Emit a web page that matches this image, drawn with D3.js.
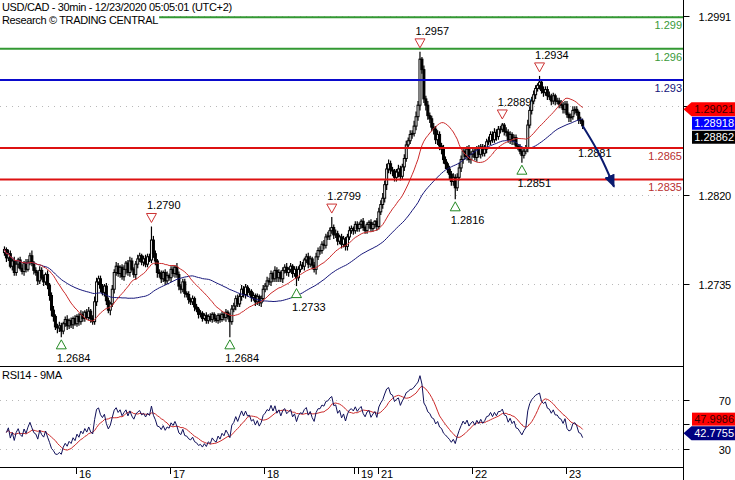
<!DOCTYPE html>
<html><head><meta charset="utf-8">
<script src="https://cdnjs.cloudflare.com/ajax/libs/d3/7.8.5/d3.min.js"></script>
<style>
html,body{margin:0;padding:0;background:#fff;}
svg{display:block;font-family:"Liberation Sans",Arial,sans-serif;font-size:11px;}
</style></head><body>
<svg id="chart" width="735" height="480"></svg>
<script>
// ---------- DATA ----------
const firstOpen = 1.2765;
const closes = [
1.2768,1.2760,1.2764,1.2752,1.2757,1.2746,1.2754,1.2758,1.2750,1.2747,
1.2755,1.2749,1.2756,1.2762,1.2755,1.2748,1.2746,1.2738,1.2748,1.2741,
1.2737,1.2744,1.2734,1.2724,1.2710,1.2704,1.2694,1.2693,1.2695,1.2690,
1.2697,1.2701,1.2695,1.2700,1.2696,1.2702,1.2697,1.2704,1.2699,1.2706,
1.2702,1.2708,1.2703,1.2709,1.2702,1.2699,1.2718,1.2737,1.2740,1.2731,
1.2727,1.2733,1.2719,1.2710,1.2716,1.2730,1.2746,1.2752,1.2745,1.2751,
1.2742,1.2749,1.2755,1.2746,1.2757,1.2749,1.2744,1.2754,1.2759,1.2762,
1.2756,1.2759,1.2754,1.2761,1.2758,1.2777,1.2764,1.2757,1.2746,1.2745,
1.2740,1.2746,1.2738,1.2743,1.2741,1.2749,1.2745,1.2751,1.2744,1.2733,
1.2730,1.2737,1.2726,1.2725,1.2720,1.2718,1.2721,1.2713,1.2711,1.2706,
1.2707,1.2702,1.2705,1.2700,1.2704,1.2701,1.2706,1.2702,1.2700,1.2705,
1.2701,1.2706,1.2703,1.2708,1.2704,1.2699,1.2711,1.2714,1.2721,1.2716,
1.2723,1.2730,1.2725,1.2732,1.2727,1.2728,1.2722,1.2724,1.2718,1.2723,
1.2717,1.2721,1.2730,1.2733,1.2738,1.2737,1.2745,1.2740,1.2748,1.2741,
1.2746,1.2740,1.2748,1.2751,1.2746,1.2749,1.2752,1.2745,1.2749,1.2741,
1.2749,1.2753,1.2752,1.2758,1.2761,1.2754,1.2759,1.2753,1.2749,1.2761,
1.2767,1.2767,1.2773,1.2772,1.2780,1.2781,1.2786,1.2789,1.2782,1.2783,
1.2776,1.2780,1.2773,1.2778,1.2771,1.2780,1.2786,1.2788,1.2786,1.2792,
1.2788,1.2792,1.2795,1.2789,1.2786,1.2792,1.2794,1.2788,1.2792,1.2795,
1.2790,1.2804,1.2811,1.2817,1.2830,1.2845,1.2850,1.2844,1.2843,1.2837,
1.2842,1.2845,1.2838,1.2847,1.2855,1.2868,1.2872,1.2878,1.2879,1.2886,
1.2895,1.2906,1.2950,1.2940,1.2912,1.2906,1.2896,1.2893,1.2885,1.2883,
1.2873,1.2878,1.2867,1.2864,1.2854,1.2850,1.2845,1.2840,1.2833,1.2837,
1.2827,1.2837,1.2846,1.2854,1.2862,1.2857,1.2864,1.2854,1.2859,1.2862,
1.2856,1.2864,1.2859,1.2866,1.2860,1.2864,1.2871,1.2872,1.2878,1.2873,
1.2880,1.2876,1.2883,1.2883,1.2887,1.2881,1.2880,1.2873,1.2878,1.2872,
1.2875,1.2867,1.2866,1.2862,1.2858,1.2862,1.2865,1.2887,1.2901,1.2910,
1.2916,1.2922,1.2925,1.2928,1.2920,1.2918,1.2921,1.2915,1.2914,1.2910,
1.2915,1.2910,1.2910,1.2907,1.2906,1.2902,1.2907,1.2897,1.2894,1.2895,
1.2901,1.2902,1.2899,1.2892,1.2891,1.28862
];
// wick lengths beyond the candle body, in pips
const wickUp = [
3,2,4,3,2,4,3,2,3,4, 2,4,3,3,5,2,3,2,4,3, 3,2,4,2,3,4,2,3,4,3, 2,3,4,2,3,2,3,2,3,4,
3,2,3,4,2,3,5,4,3,3, 4,2,3,3,2,4,3,4,3,2, 3,4,2,3,4,3,2,3,4,3, 2,3,4,3,3,13,4,3,2,3,
3,2,3,4,2,3,3,2,4,3, 2,3,3,2,3,2,3,2,3,2, 3,2,2,3,2,3,2,2,3,2, 2,3,2,3,2,3,4,3,3,4,
3,4,3,3,2,3,2,3,2,3, 2,3,4,3,4,3,3,2,4,3, 3,2,3,3,4,2,3,2,3,3, 3,4,3,2,3,4,3,2,3,4,
3,4,3,4,3,4,3,10,3,4, 3,2,3,3,2,3,4,3,2,3, 3,2,2,3,2,2,2,3,2,1, 3,4,4,5,4,5,4,3,3,2,
3,4,3,3,4,4,3,4,3,5, 5,4,7,2,4,3,4,3,3,4, 3,4,3,3,4,3,2,3,3,4, 3,4,5,4,3,4,3,4,3,3,
2,3,4,3,3,4,3,4,3,3, 4,3,3,3,2,2,4,3,3,2, 3,3,2,3,3,4,3,5,4,4, 4,3,2,6,3,4,3,3,4,3,
3,2,3,3,4,3,3,3,2,3, 4,3,3,2,3,2
];
const wickDn = [
3,4,3,2,4,3,3,4,2,3, 4,3,2,3,3,4,3,4,3,2, 4,3,4,5,6,5,3,5,4,6, 3,3,4,3,3,4,2,3,4,3,
3,3,2,3,4,3,3,4,3,4, 3,4,4,3,5,3,4,3,3,4, 3,4,5,3,4,2,3,5,4,3, 3,4,3,3,2,3,4,4,5,4,
4,3,4,3,3,4,3,4,3,4, 4,3,4,3,4,3,3,4,3,4, 3,3,2,3,3,2,3,3,2,3, 3,2,3,4,3,15,3,3,4,3,
3,4,3,4,4,3,4,3,4,3, 3,4,3,3,4,3,4,3,3,4, 4,3,4,3,3,4,3,4,3,8, 3,3,3,4,3,4,3,4,3,5,
3,4,3,4,3,3,4,3,4,3, 4,3,4,3,4,4,3,3,4,3, 3,3,4,3,3,3,4,3,3,4, 4,3,3,4,4,5,4,4,5,4,
4,5,4,3,4,3,4,3,4,3, 4,4,5,4,4,5,4,4,4,5, 4,5,4,5,4,5,4,5,4,4, 11,3,3,4,4,3,4,3,4,3,
3,4,3,4,3,3,4,3,4,3, 3,4,3,4,3,4,4,3,4,4, 4,3,3,3,7,3,3,4,3,4, 3,4,3,4,3,4,3,4,3,4,
3,4,3,4,3,4,4,3,4,4, 3,4,3,4,3,3
];
const dayLabels    = ["16","17","18","19","21","22","23"];
const dayStartBars = [37, 85, 133, 181, 191, 239, 287];
const extraTickBars = [179];
const priceTicks      = [1.2991, 1.29055, 1.2820, 1.2735];
const priceTickLabels = ["1.2991", "", "1.2820", "1.2735"];
const levelValues = [1.2990, 1.2960, 1.2930, 1.2865, 1.2835];
const levelLabels = ["1.299", "1.296", "1.293", "1.2865", "1.2835"];
const levelKinds  = ["green", "green", "blue", "red", "red"];
const swingHighBars = [75, 167, 212, 254, 273];
const swingHighs    = [1.2790, 1.2799, 1.2957, 1.2889, 1.2934];
const swingLowBars  = [29, 115, 149, 230, 264];
const swingLows     = [1.2684, 1.2684, 1.2733, 1.2816, 1.2851];
const pivotLabel = "1.2881";
const pivotPos = [292.6, 1.28565];
const arrowPath = [[295, 1.28862], [304.3, 1.2858], [311, 1.2828]];
const lastPriceLabels = ["1.29021", "1.28918", "1.28862"];
const lastPriceValues = [1.29021, 1.28918, 1.28862];
const rsiTicks = [70, 50, 30];
const rsiTickLabels = ["70", "", "30"];
const lastRsiLabels = ["47.9986", "42.7755"];
const lastRsiValues = [47.9986, 42.7755];
const headerLines = ["USD/CAD - 30min - 12/23/2020 05:05:01 (UTC+2)", "Research \u00A9 TRADING CENTRAL"];
const rsiTitle = "RSI14 - 9MA";

// ---------- INDICATORS (derived from closes) ----------
const pip = 0.0001;
function sma(arr, n){ return arr.map((v,i)=>{ const s=Math.max(0,i-n+1); let t=0; for(let k=s;k<=i;k++) t+=arr[k]; return t/(i-s+1); }); }
function rsiWilder(c, n){
  const out=[]; let ag=0.0002, al=0.0002; out[0]=null;
  for(let i=1;i<c.length;i++){ const d=c[i]-c[i-1];
    ag=(ag*(n-1)+Math.max(d,0))/n; al=(al*(n-1)+Math.max(-d,0))/n;
    out[i]= al===0?100:100-100/(1+ag/al); }
  return out;
}
const ma20 = sma(closes,20), ma50 = sma(closes,50);
const rsi = rsiWilder(closes,14);
const rsiMA = [null].concat(sma(rsi.slice(1),9));

// ---------- LAYOUT ----------
const svg = d3.select("#chart");
const axisX = 683.5;
const x = d3.scaleLinear().domain([0, closes.length-1]).range([4.46, 4.46 + 1.96*(closes.length-1)]);
const y = d3.scaleLinear().domain([1.2735, 1.2991]).range([284, 16.3]);
const yr = d3.scaleLinear().domain([30, 70]).range([448.8, 399.8]);
const colors = {green:"#339933", blue:"#0a0acc", red:"#dd1111"};
const labelColors = {green:"#3a9a3a", blue:"#14147a", red:"#b83030"};

const defs = svg.append("defs");
defs.append("clipPath").attr("id","clipMain").append("rect").attr("x",0).attr("y",0).attr("width",683).attr("height",366);
defs.append("clipPath").attr("id","clipRsi").append("rect").attr("x",0).attr("y",367).attr("width",683).attr("height",100);
defs.append("marker").attr("id","arrowHead").attr("viewBox","0 0 12 10").attr("refX",11).attr("refY",5)
  .attr("markerWidth",13).attr("markerHeight",11).attr("markerUnits","userSpaceOnUse").attr("orient","auto")
  .append("path").attr("d","M0,0 L12,5 L0,10 Z").attr("fill","#0a1a6e");

// grid (dotted)
const main = svg.append("g").attr("clip-path","url(#clipMain)");
main.selectAll("line.grid").data(priceTicks).join("line").attr("class","grid")
  .attr("x1",0).attr("x2",683).attr("y1",d=>Math.round(y(d))+0.5).attr("y2",d=>Math.round(y(d))+0.5)
  .attr("stroke","#b8b8b8").attr("stroke-dasharray","1,5");

// candles
const bars = closes.map((c,i)=>{ const o = i? closes[i-1] : firstOpen;
  return {i, o, c, h: Math.max(o,c)+wickUp[i]*pip, l: Math.min(o,c)-wickDn[i]*pip}; });
const cg = main.append("g");
cg.selectAll("line.wick").data(bars).join("line").attr("class","wick")
  .attr("x1",d=>x(d.i)).attr("x2",d=>x(d.i)).attr("y1",d=>y(d.h)).attr("y2",d=>y(d.l))
  .attr("stroke","#000").attr("stroke-width",1.2);
cg.selectAll("rect.body").data(bars).join("rect").attr("class","body")
  .attr("x",d=>x(d.i)-1).attr("width",2)
  .attr("y",d=>y(Math.max(d.o,d.c))).attr("height",d=>Math.max(0.5, Math.abs(y(d.o)-y(d.c))))
  .attr("fill",d=>d.c>=d.o?"#fff":"#000").attr("stroke","#000").attr("stroke-width",1);

// moving averages
const lineP = d3.line().x((d,i)=>x(i)).y(d=>y(d));
main.append("path").datum(ma50).attr("d",lineP).attr("fill","none").attr("stroke","#16167a").attr("stroke-width",1);
main.append("path").datum(ma20).attr("d",lineP).attr("fill","none").attr("stroke","#cc2a2a").attr("stroke-width",1);

// level lines
levelValues.forEach((v,k)=>{
  main.append("line").attr("x1",0).attr("x2",683).attr("y1",y(v)).attr("y2",y(v))
    .attr("stroke",colors[levelKinds[k]]).attr("stroke-width",2);
  svg.append("text").attr("x",682).attr("y",y(v)+12).attr("text-anchor","end")
    .attr("fill",labelColors[levelKinds[k]]).text(levelLabels[k]);
});

// swing highs
swingHighBars.forEach((b,k)=>{
  const cx=x(b), top=y(swingHighs[k])-13;
  main.append("path").attr("d",`M${cx-5},${top} L${cx+5},${top} L${cx},${top+9} Z`)
    .attr("fill","#fff").attr("stroke","#cc3333").attr("stroke-width",1);
  svg.append("text").attr("x",cx-4.5).attr("y",top-4).attr("fill","#000").text(swingHighs[k].toFixed(4));
});
// swing lows
swingLowBars.forEach((b,k)=>{
  const cx=x(b), top=y(swingLows[k])+2.5;
  main.append("path").attr("d",`M${cx},${top} L${cx+5},${top+9} L${cx-5},${top+9} Z`)
    .attr("fill","#fff").attr("stroke","#228822").attr("stroke-width",1);
  svg.append("text").attr("x",cx-4.5).attr("y",top+22).attr("fill","#000").text(swingLows[k].toFixed(4));
});

// projection arrow + pivot label
svg.append("text").attr("x",x(pivotPos[0])).attr("y",y(pivotPos[1])).attr("fill","#000").text(pivotLabel);
svg.append("path").datum(arrowPath)
  .attr("d",d3.line().x(d=>x(d[0])).y(d=>y(d[1])).curve(d3.curveBasis))
  .attr("fill","none").attr("stroke","#0a1a6e").attr("stroke-width",2).attr("marker-end","url(#arrowHead)");

// header
const hdr = svg.append("g");
const bg = hdr.append("rect").attr("fill","#fff");
hdr.append("text").attr("x",2).attr("y",11).attr("letter-spacing","-0.35px").text(headerLines[0]);
const t2 = hdr.append("text").attr("x",2).attr("y",24).attr("letter-spacing","-0.35px").text(headerLines[1]);
const bb = t2.node().getBBox();
bg.attr("x",0).attr("y",13).attr("width",bb.x+bb.width+1).attr("height",13);

// frame lines
svg.append("line").attr("x1",axisX).attr("x2",axisX).attr("y1",0).attr("y2",480).attr("stroke","#000");
svg.append("line").attr("x1",0).attr("x2",axisX).attr("y1",366.5).attr("y2",366.5).attr("stroke","#000");
svg.append("line").attr("x1",0).attr("x2",axisX).attr("y1",467.5).attr("y2",467.5).attr("stroke","#000");

// price axis
priceTicks.forEach((t,k)=>{
  const yy=Math.round(y(t))+0.5;
  svg.append("line").attr("x1",axisX).attr("x2",axisX+6).attr("y1",yy).attr("y2",yy).attr("stroke","#000");
  if(priceTickLabels[k]) svg.append("text").attr("x",731).attr("y",yy+4).attr("text-anchor","end").attr("letter-spacing","-0.2px").text(priceTickLabels[k]);
});

// last value boxes
function arrowBox(cy, fill, txt, tcol){
  svg.append("path").attr("d",`M${axisX},${cy} L${axisX+8},${cy-7} L735,${cy-7} L735,${cy+7} L${axisX+8},${cy+7} Z`).attr("fill",fill);
  svg.append("text").attr("x",734).attr("y",cy+4).attr("text-anchor","end").attr("fill",tcol).text(txt);
}
function rectBox(cy, fill, txt, tcol){
  svg.append("rect").attr("x",692).attr("y",cy-6.5).attr("width",43).attr("height",13).attr("fill",fill);
  svg.append("text").attr("x",734).attr("y",cy+4).attr("text-anchor","end").attr("fill",tcol).text(txt);
}
const pBase = y(lastPriceValues[0]);
arrowBox(pBase, "#ff0000", lastPriceLabels[0], "#3a0000");
rectBox(pBase+14, "#0000ff", lastPriceLabels[1], "#fff");
rectBox(pBase+28, "#000", lastPriceLabels[2], "#fff");

// RSI panel
const rg = svg.append("g").attr("clip-path","url(#clipRsi)");
rg.selectAll("line.rgrid").data(rsiTicks).join("line").attr("class","rgrid")
  .attr("x1",0).attr("x2",683).attr("y1",d=>Math.round(yr(d))+0.5).attr("y2",d=>Math.round(yr(d))+0.5)
  .attr("stroke","#b8b8b8").attr("stroke-dasharray","1,5");
const rLine = d3.line().defined(d=>d!=null).x((d,i)=>x(i)).y(d=>yr(d));
rg.append("path").datum(rsiMA).attr("d",rLine).attr("fill","none").attr("stroke","#cc2a2a").attr("stroke-width",1);
rg.append("path").datum(rsi).attr("d",rLine).attr("fill","none").attr("stroke","#10105a").attr("stroke-width",1);
svg.append("text").attr("x",2).attr("y",379).attr("letter-spacing","-0.3px").text(rsiTitle);
rsiTicks.forEach((t,k)=>{
  const yy=Math.round(yr(t))+0.5;
  svg.append("line").attr("x1",axisX).attr("x2",axisX+6).attr("y1",yy).attr("y2",yy).attr("stroke","#000");
  if(rsiTickLabels[k]) svg.append("text").attr("x",731).attr("y",yy+4).attr("text-anchor","end").text(rsiTickLabels[k]);
});
const rBase = yr(lastRsiValues[1]);
rectBox(rBase-14, "#ff0000", lastRsiLabels[0], "#3a0000");
arrowBox(rBase, "#000080", lastRsiLabels[1], "#fff");

// time axis
dayStartBars.concat(extraTickBars).forEach(b=>{
  const xx=Math.round(x(b-0.5))+0.5;
  svg.append("line").attr("x1",xx).attr("x2",xx).attr("y1",467).attr("y2",474).attr("stroke","#000");
});
dayStartBars.forEach((b,k)=>{
  svg.append("text").attr("x",Math.round(x(b-0.5))+3).attr("y",478).text(dayLabels[k]);
});
</script>
</body></html>
